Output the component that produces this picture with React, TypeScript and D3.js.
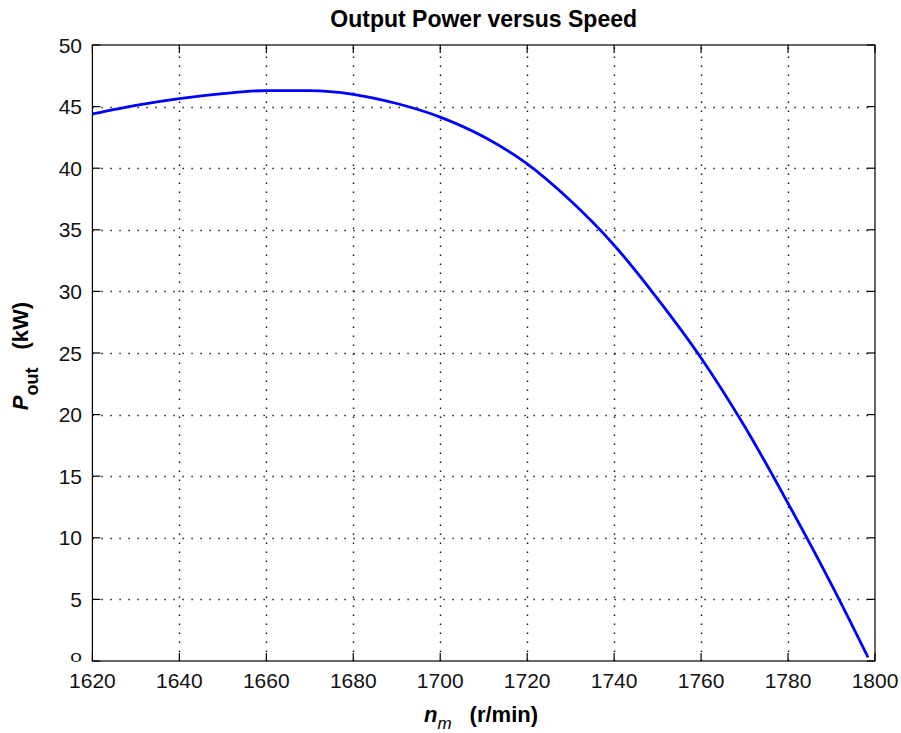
import React from "react";
import * as d3 from "d3";

const speed = [1620, 1630, 1640, 1650, 1660, 1670, 1680, 1690, 1700, 1710, 1720, 1730, 1740, 1750, 1760, 1770, 1780, 1790, 1798.4];
const power = [44.4, 45.1, 45.65, 46.05, 46.3, 46.3, 46.0, 45.25, 44.15, 42.55, 40.35, 37.35, 33.75, 29.4, 24.6, 19.05, 12.8, 6.2, 0.3];
const xTicks = [1620, 1640, 1660, 1680, 1700, 1720, 1740, 1760, 1780, 1800];
const yTicks = [0, 5, 10, 15, 20, 25, 30, 35, 40, 45, 50];
const titleText = "Output Power versus Speed";

const W = 901, H = 733;
const L = 92.4, R = 875, T = 45, B = 661;
const FONT = "'Liberation Sans', Arial, Helvetica, sans-serif";

export default function App() {
  const x = d3.scaleLinear().domain([1620, 1800]).range([L, R]);
  const y = d3.scaleLinear().domain([0, 50]).range([B, T]);
  const pts: [number, number][] = speed.map((s, i) => [s, power[i]]);
  const line = d3.line<[number, number]>().x(d => x(d[0])).y(d => y(d[1])).curve(d3.curveMonotoneX);
  const tk = 8;
  return (
    <svg width={W} height={H} style={{ position: "absolute", left: 0, top: 0, background: "#fff" }} fontFamily={FONT}>
      <rect x={0} y={0} width={W} height={H} fill="#fff" />
      {/* grid */}
      <g stroke="#111" strokeWidth={1.4} strokeDasharray="1.4 7.6">
        {xTicks.filter(t => t !== 1620 && t !== 1800).map(t => (
          <line key={"gx" + t} x1={Math.round(x(t)) + 0.5} x2={Math.round(x(t)) + 0.5} y1={B} y2={T} />
        ))}
        {yTicks.filter(t => t !== 0 && t !== 50).map(t => (
          <line key={"gy" + t} x1={L} x2={R} y1={Math.round(y(t)) + 0.5} y2={Math.round(y(t)) + 0.5} />
        ))}
      </g>
      {/* data */}
      <path d={line(pts) || ""} fill="none" stroke="#0000ff" strokeWidth={2.8} strokeLinejoin="round" />
      {/* axes box */}
      <rect x={L} y={T} width={R - L} height={B - T} fill="none" stroke="#000" strokeWidth={1.2} />
      {/* ticks */}
      <g stroke="#000" strokeWidth={1.2}>
        {xTicks.map(t => (
          <g key={"tx" + t}>
            <line x1={x(t)} x2={x(t)} y1={B} y2={B - tk} />
            <line x1={x(t)} x2={x(t)} y1={T} y2={T + tk} />
          </g>
        ))}
        {yTicks.map(t => (
          <g key={"ty" + t}>
            <line x1={L} x2={L + tk} y1={y(t)} y2={y(t)} />
            <line x1={R} x2={R - tk} y1={y(t)} y2={y(t)} />
          </g>
        ))}
      </g>
      {/* tick labels */}
      <g fontSize={21} fill="#111">
        {xTicks.map(t => (
          <text key={"lx" + t} x={x(t)} y={688} textAnchor="middle">{t}</text>
        ))}
        {yTicks.map(t => t === 0 ? (
          <text key={"ly" + t} transform={`translate(82,${y(t) + 0.7}) scale(1,0.6)`} textAnchor="end">{t}</text>
        ) : (
          <text key={"ly" + t} x={82} y={y(t) + 7.5} textAnchor="end">{t}</text>
        ))}
      </g>
      {/* title */}
      <text x={(L + R) / 2} y={26.5} textAnchor="middle" fontSize={23} fontWeight="bold" fill="#000">{titleText}</text>
      {/* x label */}
      <text x={481} y={722} textAnchor="middle" fontSize={22} fontWeight="bold" fill="#000">
        <tspan fontStyle="italic">n</tspan>
        <tspan fontStyle="italic" fontWeight="normal" fontSize={17} dy={7}>m</tspan>
        <tspan dy={-7} dx={18}>(r/min)</tspan>
      </text>
      {/* y label */}
      <text transform="translate(28,356) rotate(-90)" textAnchor="middle" fontSize={22} fontWeight="bold" fill="#000">
        <tspan fontStyle="italic">P</tspan>
        <tspan fontSize={18} dy={10}>out</tspan>
        <tspan dy={-10} dx={18}>(kW)</tspan>
      </text>
    </svg>
  );
}
